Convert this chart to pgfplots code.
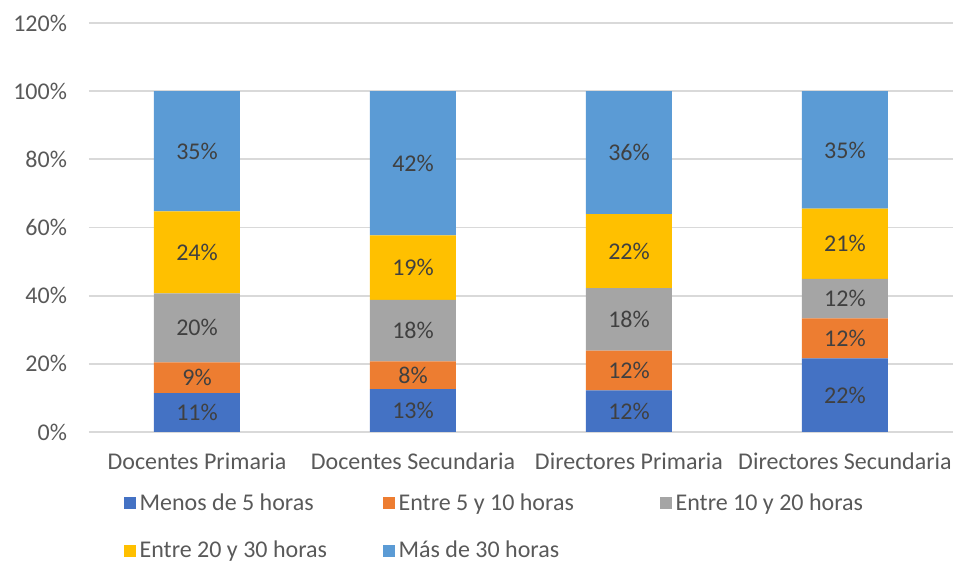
\documentclass[border=0pt]{standalone}
\usepackage{pgfplots}
\pgfplotsset{compat=1.18}
\usepackage{fontspec}
\setmainfont{Carlito}
\definecolor{c1}{HTML}{4472C4}
\definecolor{c2}{HTML}{ED7D31}
\definecolor{c3}{HTML}{A5A5A5}
\definecolor{c4}{HTML}{FFC000}
\definecolor{c5}{HTML}{5B9BD5}
\definecolor{tickgray}{HTML}{595959}
\definecolor{labgray}{HTML}{404040}
\definecolor{gridgray}{HTML}{D9D9D9}
\begin{document}
\begin{tikzpicture}
\useasboundingbox (-44.5pt,-64.5pt) rectangle (433pt,216pt);
\begin{axis}[
  at={(0,0)}, anchor=south west,
  scale only axis,
  width=432pt, height=204.5pt,
  ybar stacked,
  bar width=43pt,
  xmin=-0.5, xmax=3.5,
  ymin=0, ymax=120,
  ytick={0,20,40,60,80,100,120},
  yticklabel={\pgfmathprintnumber{\tick}\%},
  xtick={0,1,2,3},
  xticklabels={Docentes Primaria,Docentes Secundaria,Directores Primaria,Directores Secundaria},
  /pgf/number format/assume math mode=true,
  axis line style={draw=none},
  major tick length=0pt,
  ymajorgrids,
  grid style={gridgray, line width=0.9pt},
  tick label style={font=\fontsize{12}{14}\selectfont, text=tickgray},
  xticklabel style={yshift=-7pt},
  yticklabel style={xshift=-7.5pt},
  point meta=explicit symbolic,
  nodes near coords={\pgfplotspointmeta\%},
  every node near coord/.append style={anchor=center, font=\fontsize{12}{14}\selectfont, text=labgray},
  legend columns=3,
  legend cell align=left,
  legend style={at={(0.0327,-0.13)}, anchor=north west, draw=none, fill=none,
     font=\fontsize{12}{14}\selectfont, text=tickgray, row sep=10pt,
     /tikz/every even column/.append style={column sep=0pt}},
  legend image code/.code={\fill[#1,draw=none] (0pt,-3pt) rectangle (6pt,3pt);},
]
\addplot[fill=c1, draw=none] coordinates {(0,11.4)[11] (1,12.6)[13] (2,12.2)[12] (3,21.6)[22]};
\addplot[fill=c2, draw=none] coordinates {(0,9.0)[9] (1,8.1)[8] (2,11.7)[12] (3,11.7)[12]};
\addplot[fill=c3, draw=none] coordinates {(0,20.3)[20] (1,18.1)[18] (2,18.3)[18] (3,11.6)[12]};
\addplot[fill=c4, draw=none] coordinates {(0,24.0)[24] (1,18.9)[19] (2,21.7)[22] (3,20.6)[21]};
\addplot[fill=c5, draw=none] coordinates {(0,35.3)[35] (1,42.3)[42] (2,36.1)[36] (3,34.5)[35]};
\legend{\makebox[119.5pt][l]{Menos de 5 horas}, \makebox[128.5pt][l]{Entre 5 y 10 horas}, Entre 10 y 20 horas, Entre 20 y 30 horas, Más de 30 horas}
\end{axis}
\end{tikzpicture}
\end{document}
